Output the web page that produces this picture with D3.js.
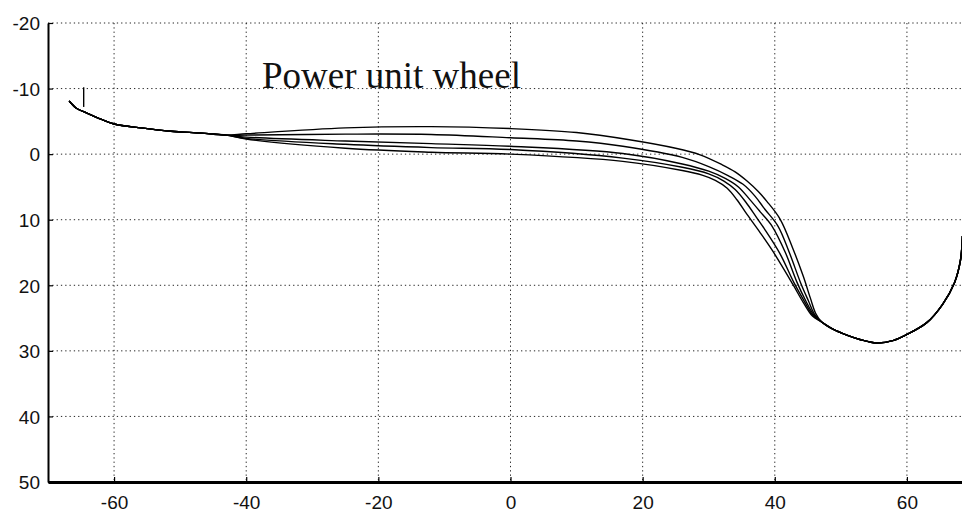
<!DOCTYPE html>
<html lang="en">
<head>
    <meta charset="UTF-8">
    <title>Power unit wheel</title>
    <script src="https://d3js.org/d3.v7.min.js"></script>
    <style>
        body { margin: 0; background: #fff; }
        svg { display: block; }
        .tick-label { font-family: "Liberation Sans", Arial, sans-serif; font-size: 19px; fill: #111; }
        .grid line { stroke: #000; stroke-width: 1; stroke-dasharray: 1.3,3; opacity: 0.85; }
        .trace { fill: none; stroke: #000; stroke-width: 1.4; }
    </style>
</head>
<body>
<div id="chart"></div>
<script>
    // axis ticks
    const xTicks = [-60, -40, -20, 0, 20, 40, 60];
    const yTicks = [-20, -10, 0, 10, 20, 30, 40, 50];

    // shared start of every trace (x, y)
    const headPts = [
        [-66.8, -8.1], [-65.7, -7.0], [-64.2, -6.3], [-61.9, -5.3], [-60, -4.6],
        [-55.9, -4.0], [-51.4, -3.5], [-46.8, -3.2], [-43, -2.9]
    ];

    // shared end: the arc at the bottom right
    const arcPts = [
        [47.1, 25.6], [48.8, 26.7], [50.9, 27.6], [53, 28.3], [55.4, 28.8], [58, 28.4],
        [60, 27.5], [63, 25.7], [65.4, 22.9], [67.2, 19.6], [68.1, 16.2], [68.4, 12.5]
    ];

    // middle part of each trace, top (outer) to bottom (inner)
    const traceA = [
        [-40, -3.1], [-25, -4.0], [-12, -4.2], [0, -3.9], [10, -3.3], [18, -2.2], [25, -0.9],
        [28.7, 0.1], [32, 1.6], [34, 2.7], [35.8, 4.1], [37.5, 5.7], [38.8, 7.2], [40.8, 9.9],
        [42.7, 14.3], [44.3, 18.6], [45.4, 22.0], [46.2, 24.3]
    ];
    const traceB = [
        [-40, -2.9], [-25, -3.05], [-12, -3.0], [0, -2.5], [10, -2.0], [17, -1.2], [26, 0.5],
        [30, 1.9], [33, 3.3], [35.2, 4.6], [37, 6.4], [38.5, 8.4], [40.5, 11.0], [42.2, 15.0],
        [43.9, 19.6], [45.1, 22.4], [46.0, 24.4]
    ];
    const traceC = [
        [-40, -2.6], [-25, -2.0], [-12, -1.6], [0, -1.2], [17, -0.1], [26, 1.5], [30, 2.6],
        [32.5, 3.7], [34.5, 5.0], [36.2, 6.9], [37.8, 8.8], [39.6, 11.0], [41.6, 15.0],
        [43.3, 19.4], [44.7, 22.4], [45.9, 24.5]
    ];
    const traceD = [
        [-40, -2.4], [-25, -1.5], [-12, -1.0], [0, -0.7], [17, 0.6], [26, 2.0], [30, 3.0],
        [32.3, 4.1], [34, 5.4], [35.6, 7.3], [37.2, 9.6], [38.5, 11.5], [40.8, 15.2],
        [42.9, 19.6], [44.5, 22.5], [45.8, 24.6]
    ];
    const traceE = [
        [-40, -2.3], [-25, -0.9], [-12, -0.3], [0, 0.0], [17, 1.1], [26, 2.5], [29, 3.2],
        [31, 4.0], [32.8, 5.2], [34.3, 7.0], [35.8, 9.2], [37.8, 12.0], [39.7, 14.8],
        [42.7, 19.8], [44.3, 22.6], [45.7, 24.7]
    ];

    // short spike at the start of one trace
    const spikePts = [[-64.6, -10.2], [-64.6, -7.2]];

    const W = 962, H = 512;

    const svg = d3.select("#chart").append("svg")
        .attr("width", W)
        .attr("height", H);

    const x = d3.scaleLinear().domain([-70, 70]).range([48, 973]);
    const y = d3.scaleLinear().domain([-20, 50]).range([23, 482]);

    svg.append("defs").append("clipPath").attr("id", "plotClip")
        .append("rect")
        .attr("x", x(-70)).attr("y", y(-20) - 2)
        .attr("width", W - x(-70)).attr("height", y(50) - y(-20) + 4);

    // grid
    const grid = svg.append("g").attr("class", "grid").attr("clip-path", "url(#plotClip)");
    grid.selectAll(".gx").data(xTicks).enter().append("line")
        .attr("x1", d => x(d)).attr("x2", d => x(d))
        .attr("y1", y(-20)).attr("y2", y(50));
    grid.selectAll(".gy").data(yTicks.filter(d => d !== 50)).enter().append("line")
        .attr("x1", x(-70)).attr("x2", x(70))
        .attr("y1", d => y(d)).attr("y2", d => y(d));

    // axes (MATLAB style: ticks inside, labels outside, plain hyphen minus)
    const fmt = d => String(d);
    const yAxis = svg.append("g")
        .attr("transform", `translate(${x(-70)},0)`)
        .call(d3.axisLeft(y).tickValues(yTicks).tickFormat(fmt)
            .tickSizeInner(-5).tickSizeOuter(0).tickPadding(8));
    const xAxis = svg.append("g")
        .attr("transform", `translate(0,${y(50)})`)
        .call(d3.axisBottom(x).tickValues(xTicks).tickFormat(fmt)
            .tickSizeInner(-5).tickSizeOuter(0).tickPadding(10));

    [xAxis, yAxis].forEach(g => {
        g.select(".domain").attr("stroke", "#000").attr("stroke-width", 2);
        g.selectAll(".tick line").attr("stroke", "#000").attr("stroke-width", 1.2);
        g.selectAll(".tick text").attr("class", "tick-label").attr("font-size", null)
            .attr("font-family", null);
    });
    xAxis.select(".domain").attr("stroke-width", 3);
    yAxis.selectAll(".tick text").attr("dy", "0.36em");
    xAxis.selectAll(".tick text").attr("dy", "0.9em");

    // traces
    const line = d3.line()
        .x(d => x(d[0]))
        .y(d => y(d[1]))
        .curve(d3.curveCatmullRom.alpha(0.5));

    const traces = [traceA, traceB, traceC, traceD, traceE].map(mid => headPts.concat(mid, arcPts));

    const plot = svg.append("g").attr("clip-path", "url(#plotClip)");
    plot.selectAll(".trace").data(traces).enter().append("path")
        .attr("class", "trace")
        .attr("d", line);

    plot.append("path")
        .datum(spikePts)
        .attr("class", "trace")
        .attr("stroke-width", 1)
        .attr("d", d3.line().x(d => x(d[0])).y(d => y(d[1])));

    // title inside the plot
    svg.append("text")
        .attr("x", 262)
        .attr("y", 88)
        .attr("font-family", "'Liberation Serif', 'Times New Roman', serif")
        .attr("font-size", 37)
        .attr("fill", "#111")
        .text("Power unit wheel");
</script>
</body>
</html>
